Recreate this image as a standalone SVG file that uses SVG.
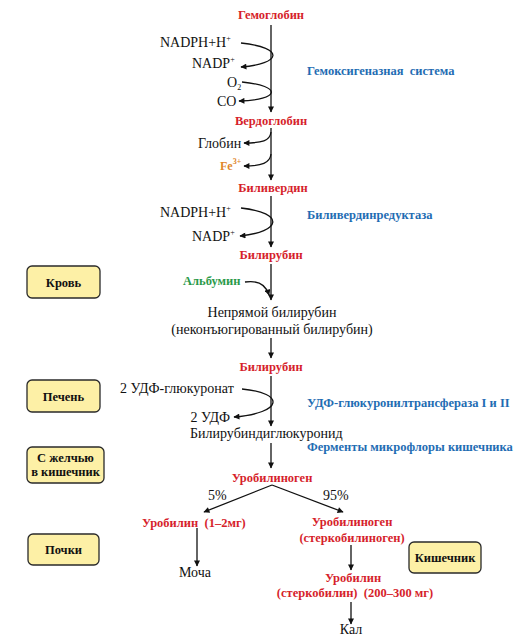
<svg xmlns="http://www.w3.org/2000/svg" width="530" height="637" viewBox="0 0 530 637" font-family="'Liberation Serif', 'DejaVu Serif', 'Times New Roman', serif">
<defs>
<marker id="ah" viewBox="0 0 10 10" refX="9" refY="5" markerWidth="7" markerHeight="6" markerUnits="userSpaceOnUse" orient="auto">
<path d="M0,0 L10,5 L0,10 z" fill="#111"/>
</marker>
<style>
svg, text, tspan{font-family:'Liberation Serif','DejaVu Serif','Times New Roman',serif;}
.red{fill:#d61f2c;font-weight:bold;font-size:12.5px;}
.blue{fill:#1f6db3;font-weight:bold;font-size:12.5px;}
.reg{fill:#111;font-size:14px;}
.box{fill:#fdf0a6;stroke:#2a2a2a;stroke-width:1.3;}
.bt{fill:#111;font-weight:bold;font-size:12.5px;text-anchor:middle;}
.ln{fill:none;stroke:#111;stroke-width:1.3;marker-end:url(#ah);}
.c{text-anchor:middle;}
.e{text-anchor:end;}
.sup{font-size:8px;}
</style>
</defs>
<rect width="530" height="637" fill="#fff"/>

<g id="connectors">
<line class="ln" x1="271" y1="25" x2="271" y2="112"/>
<path class="ln" d="M241,43 C286,48 281,64 241,67"/>
<path class="ln" d="M242,82 C283,86 280,100 239,101"/>
<line class="ln" x1="271" y1="128" x2="271" y2="180"/>
<path class="ln" d="M271,132 C270,141 262,143 244,143"/>
<path class="ln" d="M271,154 C270,163 262,166 244,166"/>
<line class="ln" x1="271" y1="196" x2="271" y2="247"/>
<path class="ln" d="M241,208 C286,213 281,232 240,236"/>
<line class="ln" x1="271" y1="264" x2="271" y2="300"/>
<path class="ln" d="M245,282 C258,280 266,285 269,295"/>
<line class="ln" x1="271" y1="338" x2="271" y2="358"/>
<line class="ln" x1="271" y1="376" x2="271" y2="426"/>
<path class="ln" d="M242,389 C286,393 283,413 234,417"/>
<line class="ln" x1="271" y1="443" x2="271" y2="468"/>
<line class="ln" x1="272" y1="485" x2="204" y2="512"/>
<line class="ln" x1="272" y1="485" x2="343" y2="512"/>
<line class="ln" x1="197" y1="528" x2="197" y2="566"/>
<line class="ln" x1="351" y1="545" x2="351" y2="570"/>
<line class="ln" x1="351" y1="602" x2="351" y2="624"/>
</g>

<g id="n-hemoglobin"><text class="red c" x="271" y="19">Гемоглобин</text></g>
<g id="n-nadph1"><text class="reg" x="160" y="47">NADPH+H<tspan class="sup" dy="-6">+</tspan></text></g>
<g id="n-nadp1"><text class="reg" x="192" y="68">NADP<tspan class="sup" dy="-6">+</tspan></text></g>
<g id="n-o2"><text class="reg" x="227" y="87">O<tspan class="sup" dy="3">2</tspan></text></g>
<g id="n-co"><text class="reg" x="217" y="106">CO</text></g>
<g id="n-hemox"><text class="blue" x="307" y="75" xml:space="preserve">Гемоксигеназная  система</text></g>
<g id="n-verdoglobin"><text class="red c" x="271" y="125">Вердоглобин</text></g>
<g id="n-globin"><text class="reg" x="198" y="148">Глобин</text></g>
<g id="n-fe"><text x="220" y="170" style="fill:#e0862a;font-weight:bold;font-size:12px;">Fe<tspan class="sup" dy="-6">3+</tspan></text></g>
<g id="n-biliverdin"><text class="red c" x="273" y="192">Биливердин</text></g>
<g id="n-nadph2"><text class="reg" x="160" y="217">NADPH+H<tspan class="sup" dy="-6">+</tspan></text></g>
<g id="n-nadp2"><text class="reg" x="192" y="241">NADP<tspan class="sup" dy="-6">+</tspan></text></g>
<g id="n-bvr"><text class="blue" x="307" y="219">Биливердинредуктаза</text></g>
<g id="n-bilirubin1"><text class="red c" x="271" y="259">Билирубин</text></g>
<g id="n-albumin"><text x="183" y="285" style="fill:#2b9a4a;font-weight:bold;font-size:12.5px;">Альбумин</text></g>
<g id="n-indirect"><text class="reg c" x="272" y="317">Непрямой билирубин</text><text class="reg c" x="272" y="334">(неконъюгированный билирубин)</text></g>
<g id="n-bilirubin2"><text class="red c" x="271" y="371">Билирубин</text></g>
<g id="n-udpg"><text class="reg" x="120" y="393">2 УДФ-глюкуронат</text></g>
<g id="n-udp"><text class="reg e" x="230" y="422">2 УДФ</text></g>
<g id="n-ugt"><text class="blue" x="307" y="407">УДФ-глюкуронилтрансфераза I и II</text></g>
<g id="n-bdg"><text class="reg" x="190" y="438">Билирубиндиглюкуронид</text></g>
<g id="n-microflora"><text class="blue" x="307" y="451">Ферменты микрофлоры кишечника</text></g>
<g id="n-urobilinogen"><text class="red c" x="272" y="482">Уробилиноген</text></g>
<g id="n-p5"><text class="reg" x="208" y="500">5%</text></g>
<g id="n-p95"><text class="reg" x="323" y="500">95%</text></g>
<g id="n-urobilin1"><text class="red" x="142" y="527" xml:space="preserve">Уробилин  (1–2мг)</text></g>
<g id="n-moča"><text class="reg c" x="195" y="577">Моча</text></g>
<g id="n-urobilinogen2"><text class="red c" x="352" y="526">Уробилиноген</text><text class="red c" x="352" y="542">(стеркобилиноген)</text></g>
<g id="n-urobilin2"><text class="red c" x="353" y="582">Уробилин</text><text class="red c" x="355" y="597" xml:space="preserve">(стеркобилин)  (200–300 мг)</text></g>
<g id="n-kal"><text class="reg c" x="351" y="634">Кал</text></g>

<g id="b-krov"><rect class="box" x="27" y="266" width="73" height="32" rx="5"/><text class="bt" x="63.5" y="286.5">Кровь</text></g>
<g id="b-pechen"><rect class="box" x="27" y="380" width="73" height="32" rx="5"/><text class="bt" x="63.5" y="400.5">Печень</text></g>
<g id="b-zhelch"><rect class="box" x="27" y="447" width="77" height="36" rx="5"/><text class="bt" x="65.5" y="462">С желчью</text><text class="bt" x="65.5" y="476">в кишечник</text></g>
<g id="b-pochki"><rect class="box" x="28" y="534" width="71" height="31" rx="5"/><text class="bt" x="63.5" y="554">Почки</text></g>
<g id="b-kishechnik"><rect class="box" x="409" y="542" width="72" height="31" rx="5"/><text class="bt" x="445" y="562">Кишечник</text></g>
</svg>
